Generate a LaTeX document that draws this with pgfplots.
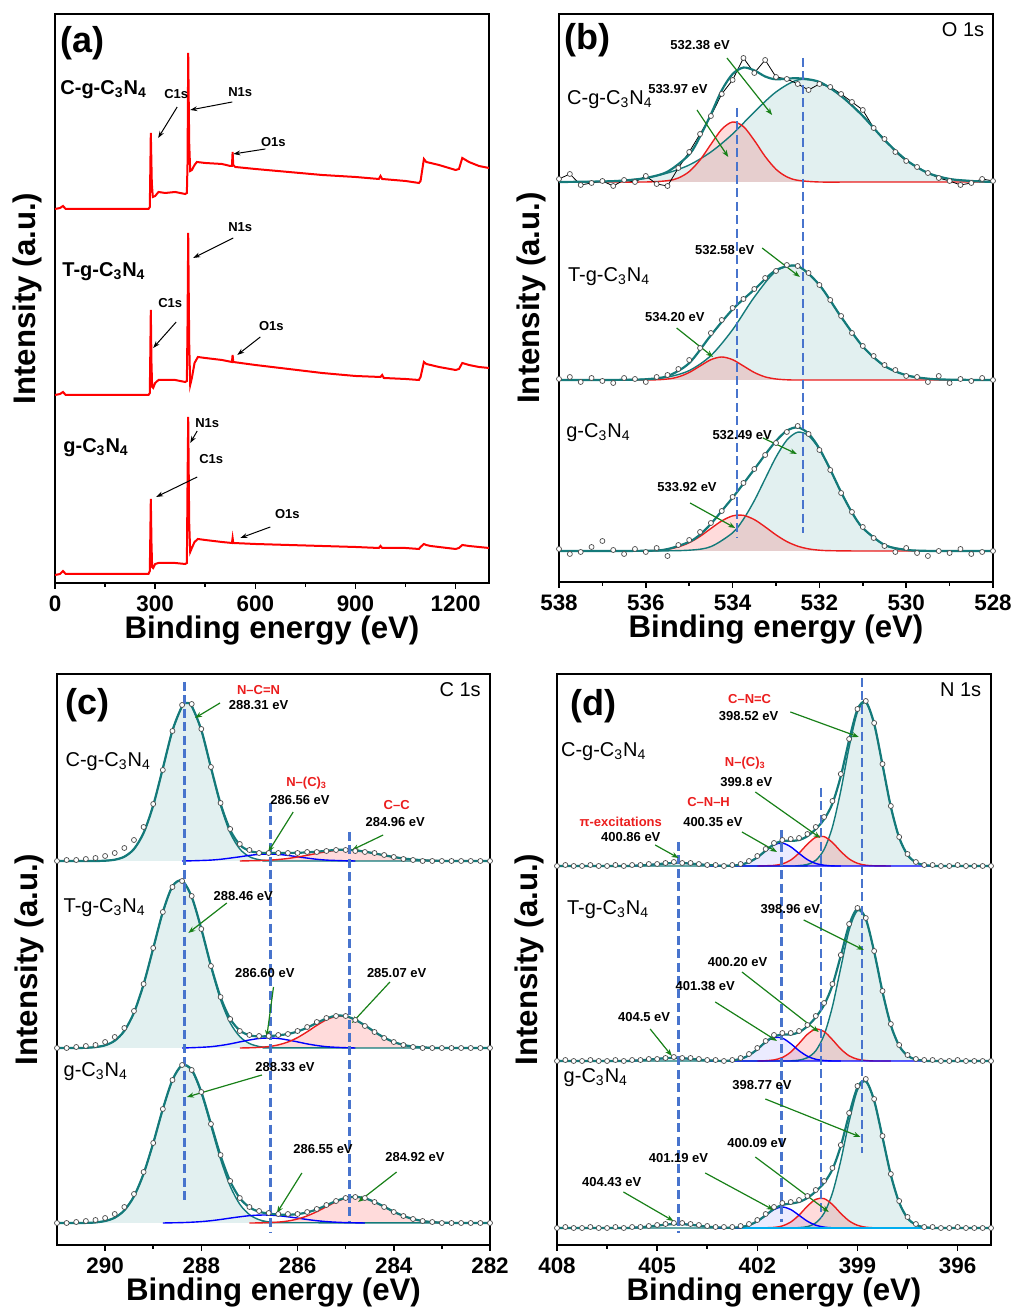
\documentclass[border=0pt]{standalone}
\usepackage{fontspec}
\setmainfont{Liberation Sans}
\usepackage{pgfplots}
\pgfplotsset{compat=1.18}
\usetikzlibrary{arrows.meta}

\definecolor{fitteal}{RGB}{20,122,122}
\definecolor{tealfill}{RGB}{226,240,240}
\definecolor{dashblue}{RGB}{72,116,205}
\definecolor{arrgreen}{RGB}{24,128,24}
\definecolor{ringgray}{RGB}{75,75,75}
\definecolor{compred}{RGB}{235,30,30}

\pgfplotsset{
  panel/.style={
    scale only axis, width=217pt, height=285pt,
    ymin=0, ytick=\empty,
    axis line style={line width=1pt},
    tick align=outside, xtick pos=bottom,
    major tick length=3pt, minor tick length=1.8pt,
    every tick/.append style={line width=0.8pt, black},
    minor x tick num=1,
    /pgf/number format/assume math mode=true,
    /pgf/number format/1000 sep={},
    xticklabel style={font=\fontsize{11.2}{13}\selectfont\bfseries},
    xlabel={Binding energy (eV)}, ylabel={Intensity (a.u.)},
    label style={font=\fontsize{15.6}{18}\selectfont\bfseries},
    xlabel style={at={(axis description cs:0.5,-0.083)}, anchor=center},
    ylabel style={at={(axis description cs:-0.064,0.5)}, anchor=center},
  },
  ring/.style={only marks, mark=*, mark size=1.25pt,
    mark options={draw=ringgray, fill=white, line width=0.35pt}},
  env/.style={fitteal, line width=1.1pt, smooth},
  comp/.style={fitteal, line width=0.7pt, smooth},
  tfill/.style={draw=none, fill=tealfill, smooth},
  rfill/.style={draw=none, fill=red, fill opacity=0.14, smooth},
  bfill/.style={draw=none, fill=blue, fill opacity=0.08, smooth},
  rline/.style={compred, line width=0.7pt, smooth},
  bline/.style={blue, line width=0.7pt, smooth},
  vdash/.style={dashblue, line width=1.3pt, dash pattern=on 4.5pt off 2.2pt},
}
\tikzset{
  ann/.style={font=\fontsize{6.5}{7}\selectfont\bfseries, inner sep=0pt},
  rann/.style={ann, text=compred},
  smp/.style={font=\fontsize{10}{12}\selectfont, anchor=west, inner sep=0pt},
  tag/.style={font=\fontsize{18}{20}\selectfont\bfseries, inner sep=0pt},
  core/.style={font=\fontsize{10}{12}\selectfont, inner sep=0pt},
  garr/.style={arrgreen, line width=0.6pt, -{Stealth[length=3.5pt,width=2.6pt]}},
  karr/.style={black, line width=0.5pt, -{Stealth[length=3.5pt,width=2.4pt]}},
}

\begin{document}
\begin{tikzpicture}
\useasboundingbox (0,0) rectangle (506.5pt,655pt);

% ---------------- (a) survey ----------------
\begin{axis}[panel, at={(27.5pt,363.5pt)}, anchor=south west, height=284.5pt,
  xmin=0, xmax=1300, ymax=569, xtick={0,300,600,900,1200}]
\addplot[red, line width=1pt] coordinates {
(0,374) (15,375) (24,377) (32,374) (100,374) (200,374) (280,374) (284,376) (287,450) (290,400)
(293,386) (300,387) (310,391) (330,390) (360,391) (390,389) (395,390) (397,420) (399,530) (402,440)
(405,412) (410,413) (418,418) (425,421) (450,420) (500,419) (525,417) (530,417) (532,431) (534,418)
(540,416) (600,414) (700,411) (800,408) (900,406) (970,404) (975,407) (980,404) (1050,402) (1090,400)
(1095,402) (1105,424) (1112,421) (1125,420) (1150,418) (1200,413) (1210,414) (1220,425) (1240,421)
(1270,417) (1300,415)};
\addplot[red, line width=1pt] coordinates {
(0,188) (15,189) (24,191) (32,188) (280,188) (284,190) (287,273) (289,220) (291,196) (294,195)
(300,200) (310,203) (360,203) (390,201) (395,202) (397,260) (399,350) (402,240) (405,198) (410,205)
(418,220) (428,226) (450,225) (500,223) (530,221) (532,228) (534,221) (600,218) (700,214) (800,210)
(900,207) (975,206) (980,208) (985,205) (1050,204) (1090,203) (1095,206) (1105,221) (1112,219)
(1125,218) (1150,216) (1200,213) (1210,214) (1220,220) (1240,218) (1270,216) (1300,215)};
\addplot[red, line width=1pt] coordinates {
(0,8) (15,9) (24,12) (32,9) (100,9) (280,9) (284,12) (287,84) (289,40) (291,16) (294,15) (300,19)
(310,20) (360,20) (390,19) (395,20) (397,100) (399,166) (402,60) (405,31) (410,35) (418,41) (428,44)
(450,43) (500,41) (530,40) (532,45) (534,40) (600,39) (700,38) (800,37) (900,36) (970,35) (975,37)
(980,35) (1050,35) (1090,34) (1095,36) (1105,39) (1112,38) (1125,37) (1150,36) (1200,34) (1210,35)
(1220,38) (1240,37) (1270,36) (1300,35)};
\node[tag] at (81,540) {(a)};
\node[smp, font=\fontsize{10}{12}\selectfont\bfseries] at (15,493) {C-g-C\textsubscript{3}N\textsubscript{4}};
\node[smp, font=\fontsize{10}{12}\selectfont\bfseries] at (21,311) {T-g-C\textsubscript{3}N\textsubscript{4}};
\node[smp, font=\fontsize{10}{12}\selectfont\bfseries] at (24,135) {g-C\textsubscript{3}N\textsubscript{4}};
\node[ann] at (363,489) {C1s}; \draw[karr] (366,476) -- (309,445);
\node[ann] at (555,491) {N1s}; \draw[karr] (531,481) -- (405,473);
\node[ann] at (654,441) {O1s}; \draw[karr] (630,434) -- (534,429);
\node[ann] at (555,356) {N1s}; \draw[karr] (534,345) -- (414,325);
\node[ann] at (345,280) {C1s}; \draw[karr] (363,261) -- (294,235);
\node[ann] at (648,257) {O1s}; \draw[karr] (615,246) -- (546,228);
\node[ann] at (456,160) {N1s}; \draw[karr] (426,152) -- (405,140);
\node[ann] at (468,124) {C1s}; \draw[karr] (426,106) -- (303,86);
\node[ann] at (696,69) {O1s}; \draw[karr] (645,56) -- (555,45);
\end{axis}

% ---------------- (b) O 1s ----------------
\begin{axis}[panel, at={(279.5pt,364pt)}, anchor=south west, height=284pt,
  x dir=reverse, xmin=528, xmax=538, ymax=568, xtick={528,530,...,538}]
% top
\addplot[tfill] coordinates {(538,400) (537,400.5) (536.5,401.5) (536,404) (535.5,409) (535,417) (534.5,430) (534,448) (533.5,470) (533,490) (532.5,502) (532,500) (531.5,486) (531,466) (530.5,442) (530,422) (529.5,409) (529,403) (528.5,401) (528,400)};
\addplot[rfill] coordinates {(538,400) (537,400) (536,400) (535.5,401.3) (535.25,404) (535,410.4) (534.75,422) (534.5,437.7) (534.25,452.7) (534,460) (533.75,455.4) (533.5,441.6) (533.25,425.5) (533,412.7) (532.75,405.1) (532.5,401.7) (532,400) (531,400) (528,400)};
\addplot[comp] coordinates {(538,400) (537,400.5) (536.5,401.5) (536,404) (535.5,409) (535,417) (534.5,430) (534,448) (533.5,470) (533,490) (532.5,502) (532,500) (531.5,486) (531,466) (530.5,442) (530,422) (529.5,409) (529,403) (528.5,401) (528,400)};
\addplot[rline] coordinates {(538,400) (537,400) (536,400) (535.5,401.3) (535.25,404) (535,410.4) (534.75,422) (534.5,437.7) (534.25,452.7) (534,460) (533.75,455.4) (533.5,441.6) (533.25,425.5) (533,412.7) (532.75,405.1) (532.5,401.7) (532,400) (531,400) (528,400)};
\addplot[black, line width=0.4pt] coordinates {(538,403) (537.75,408) (537.5,397) (537.25,399) (537,401) (536.75,396) (536.5,402) (536.25,400) (536,406) (535.75,398) (535.5,396) (535.25,414) (535,430) (534.75,448) (534.5,466) (534.25,488) (534,502) (533.75,524) (533.5,509) (533.25,522) (533,505) (532.75,503) (532.5,498) (532.25,492) (532,498) (531.75,495) (531.5,488) (531.25,480) (531,472) (530.75,454) (530.5,443) (530.25,430) (530,421) (529.75,415) (529.5,409) (529.25,404) (529,401) (528.75,397) (528.5,399) (528.25,403) (528,401)};
\addplot[env] coordinates {(538,400) (537,400.5) (536.5,401.5) (536,404) (535.5,410.3) (535,427.4) (534.75,445.5) (534.5,467.7) (534.25,491.7) (534,508) (533.75,514.4) (533.5,511.6) (533.25,505.5) (533,502.7) (532.5,503.7) (532,500) (531.5,486) (531,466) (530.5,442) (530,422) (529.5,409) (529,403) (528.5,401) (528,400)};
\addplot[ring] coordinates {(538,403) (537.75,408) (537.5,397) (537.25,399) (537,401) (536.75,396) (536.5,402) (536.25,400) (536,406) (535.75,398) (535.5,396) (535.25,414) (535,430) (534.75,448) (534.5,466) (534.25,488) (534,502) (533.75,524) (533.5,509) (533.25,522) (533,505) (532.75,503) (532.5,498) (532.25,492) (532,498) (531.75,495) (531.5,488) (531.25,480) (531,472) (530.75,454) (530.5,443) (530.25,430) (530,421) (529.75,415) (529.5,409) (529.25,404) (529,401) (528.75,397) (528.5,399) (528.25,403) (528,401)};
% middle
\addplot[tfill] coordinates {(538,202) (537,202) (536,202.7) (535.5,204.9) (535,211.4) (534.5,226.4) (534,252.3) (533.5,284.9) (533,310.8) (532.5,315.8) (532,297) (531.5,265.1) (531,235.5) (530.5,216.1) (530,206.8) (529.5,203.3) (529,202.3) (528,202)};
\addplot[rfill] coordinates {(538,202) (536,202) (535.5,203) (535.25,205.1) (535,209.5) (534.75,216) (534.5,222.3) (534.25,225) (534,222.3) (533.75,216) (533.5,209.5) (533.25,205.1) (533,203) (532.75,202.2) (532.5,202) (531,202) (528,202)};
\addplot[comp] coordinates {(538,202) (537,202) (536,202.7) (535.5,204.9) (535,211.4) (534.5,226.4) (534,252.3) (533.5,284.9) (533,310.8) (532.5,315.8) (532,297) (531.5,265.1) (531,235.5) (530.5,216.1) (530,206.8) (529.5,203.3) (529,202.3) (528,202)};
\addplot[rline] coordinates {(538,202) (536,202) (535.5,203) (535.25,205.1) (535,209.5) (534.75,216) (534.5,222.3) (534.25,225) (534,222.3) (533.75,216) (533.5,209.5) (533.25,205.1) (533,203) (532.75,202.2) (532.5,202) (531,202) (528,202)};
\addplot[env] coordinates {(538,202) (537,202) (536.5,202.2) (536,202.7) (535.5,205.9) (535,218.9) (534.5,246.7) (534,272.6) (533.5,292.4) (533,311.8) (532.5,315.8) (532,297) (531.5,265.1) (531,235.5) (530.5,216.1) (530,206.8) (529.5,203.3) (529,202.3) (528,202)};
\addplot[ring] coordinates {(538,203) (537.75,205) (537.5,200) (537.25,204) (537,201) (536.75,199) (536.5,204) (536.25,203) (536,200) (535.75,205) (535.5,207) (535.25,213) (535,222) (534.75,234) (534.5,249) (534.25,262) (534,274) (533.75,283) (533.5,293) (533.25,304) (533,311) (532.75,317) (532.5,316) (532.25,309) (532,297) (531.75,282) (531.5,266) (531.25,249) (531,236) (530.75,226) (530.5,217) (530.25,212) (530,206) (529.75,205) (529.5,200) (529.25,206) (529,199) (528.75,203) (528.5,201) (528.25,204) (528,202)};
% bottom
\addplot[tfill] coordinates {(538,31) (536,31) (535,31.8) (534.5,35.4) (534,49.2) (533.75,62.8) (533.5,81.3) (533.25,103.2) (533,124.9) (532.75,141.9) (532.5,149.8) (532.25,146.3) (532,132.6) (531.75,112.2) (531.5,89.8) (531.25,69.6) (531,54) (530.5,37.1) (530,32.1) (529.5,31.1) (529,31) (528,31)};
\addplot[rfill] coordinates {(538,31) (536,31.2) (535.5,32.8) (535.25,35.1) (535,39.3) (534.75,45.6) (534.5,53.5) (534.25,61.1) (534,66.1) (533.75,66.6) (533.5,62.4) (533.25,55.1) (533,47.1) (532.75,40.4) (532.5,35.8) (532.25,33.1) (532,31.8) (531.75,31.3) (531,31) (528,31)};
\addplot[comp] coordinates {(538,31) (536,31) (535,31.8) (534.5,35.4) (534,49.2) (533.75,62.8) (533.5,81.3) (533.25,103.2) (533,124.9) (532.75,141.9) (532.5,149.8) (532.25,146.3) (532,132.6) (531.75,112.2) (531.5,89.8) (531.25,69.6) (531,54) (530.5,37.1) (530,32.1) (529.5,31.1) (529,31) (528,31)};
\addplot[rline] coordinates {(538,31) (536,31.2) (535.5,32.8) (535.25,35.1) (535,39.3) (534.75,45.6) (534.5,53.5) (534.25,61.1) (534,66.1) (533.75,66.6) (533.5,62.4) (533.25,55.1) (533,47.1) (532.75,40.4) (532.5,35.8) (532.25,33.1) (532,31.8) (531.75,31.3) (531,31) (528,31)};
\addplot[env] coordinates {(538,31) (536,31.2) (535.5,32.9) (535,40.1) (534.75,47.4) (534.5,58.1) (534.25,71.1) (534,84.3) (533.75,98.4) (533.5,112.7) (533.25,127.3) (533,141) (532.75,151.3) (532.5,154.6) (532.25,148.4) (532,133.4) (531.75,112.5) (531.5,89.8) (531.25,69.6) (531,54) (530.5,37.1) (530,32.1) (529.5,31.1) (529,31) (528,31)};
\addplot[ring] coordinates {(538,33) (537.75,28) (537.5,30) (537.25,35) (537,41) (536.75,32) (536.5,28) (536.25,33) (536,30) (535.75,34) (535.5,26) (535.25,37) (535,42) (534.75,50) (534.5,59) (534.25,71) (534,85) (533.75,99) (533.5,113) (533.25,127) (533,139) (532.75,150) (532.5,156) (532.25,148) (532,132) (531.75,112) (531.5,89) (531.25,70) (531,55) (530.75,44) (530.5,36) (530.25,30) (530,34) (529.75,29) (529.5,26) (529.25,31) (529,29) (528.75,33) (528.5,28) (528.25,30) (528,31)};
% marker lines
\addplot[vdash] coordinates {(533.9,474) (533.9,44)};
\addplot[vdash] coordinates {(532.38,524) (532.38,49)};
\node[tag] at (537.35,542) {(b)};
\node[core] at (528.69,552) {O 1s};
\node[smp] at (537.82,482) {C-g-C\textsubscript{3}N\textsubscript{4}};
\node[smp] at (537.8,305) {T-g-C\textsubscript{3}N\textsubscript{4}};
\node[smp] at (537.84,149) {g-C\textsubscript{3}N\textsubscript{4}};
\node[ann] at (534.75,537) {532.38 eV}; \draw[garr] (534.13,524) -- (533.09,467);
\node[ann] at (535.26,493) {533.97 eV}; \draw[garr] (534.82,472) -- (534.1,425);
\node[ann] at (534.18,332) {532.58 eV}; \draw[garr] (533.32,334) -- (532.45,305);
\node[ann] at (535.33,265) {534.20 eV}; \draw[garr] (535.29,254) -- (534.45,225);
\node[ann] at (533.78,147) {532.49 eV}; \draw[garr] (533.3,144) -- (532.52,128);
\node[ann] at (535.05,95) {533.92 eV}; \draw[garr] (534.98,79) -- (533.94,54);
\end{axis}

% ---------------- (c) C 1s ----------------
\begin{axis}[panel, at={(28.5pt,32.5pt)}, anchor=south west, width=216.5pt, height=285.5pt,
  x dir=reverse, xmin=282, xmax=291, ymax=571, xtick={282,284,...,290}]
% top
\addplot[tfill] coordinates {(291,384) (290.4,384) (290.2,384) (290,384.3) (289.8,385.3) (289.6,388.3) (289.4,396) (289.2,412.1) (289,439.6) (288.8,476.7) (288.6,514.5) (288.4,538.7) (288.3,542) (288.2,538.7) (288,514.5) (287.8,476.7) (287.6,439.6) (287.4,412.1) (287.2,396) (287,388.3) (286.8,385.3) (286.6,384.3) (286.4,384) (282,384)};
\addplot[rfill] coordinates {(287.2,384) (287,384.2) (286.8,384.4) (286.6,384.8) (286.4,385.5) (286.2,386.5) (286,388) (285.8,389.7) (285.6,391.6) (285.4,393.3) (285.2,394.6) (285,395) (284.8,394.6) (284.6,393.3) (284.4,391.6) (284.2,389.7) (284,388) (283.8,386.5) (283.6,385.5) (283.4,384.8) (283.2,384.4) (283,384.2) (282.8,384)};
\addplot[comp] coordinates {(291,384) (290.4,384) (290.2,384) (290,384.3) (289.8,385.3) (289.6,388.3) (289.4,396) (289.2,412.1) (289,439.6) (288.8,476.7) (288.6,514.5) (288.4,538.7) (288.3,542) (288.2,538.7) (288,514.5) (287.8,476.7) (287.6,439.6) (287.4,412.1) (287.2,396) (287,388.3) (286.8,385.3) (286.6,384.3) (286.4,384) (282,384)};
\addplot[bline] coordinates {(288.4,384) (288.2,384.2) (288,384.5) (287.8,384.9) (287.6,385.7) (287.4,386.9) (287.2,388.2) (287,389.6) (286.8,390.6) (286.6,391) (286.4,390.6) (286.2,389.6) (286,388.2) (285.8,386.9) (285.6,385.7) (285.4,384.9) (285.2,384.5) (285,384.2) (284.8,384)};
\addplot[rline] coordinates {(287.2,384) (287,384.2) (286.8,384.4) (286.6,384.8) (286.4,385.5) (286.2,386.5) (286,388) (285.8,389.7) (285.6,391.6) (285.4,393.3) (285.2,394.6) (285,395) (284.8,394.6) (284.6,393.3) (284.4,391.6) (284.2,389.7) (284,388) (283.8,386.5) (283.6,385.5) (283.4,384.8) (283.2,384.4) (283,384.2) (282.8,384)};
\addplot[env] coordinates {(291,384) (290.4,384) (290.2,384) (290,384.3) (289.8,385.3) (289.6,388.3) (289.4,396) (289.2,412.1) (289,439.6) (288.8,476.7) (288.6,514.5) (288.4,538.7) (288.3,542) (288.2,538.9) (288,515) (287.8,477.6) (287.6,441.3) (287.4,415) (287.2,400.2) (287,394.1) (286.8,392.3) (286.6,392.1) (286.4,392.1) (286.2,392.1) (286,392.2) (285.8,392.6) (285.6,393.3) (285.4,394.2) (285.2,395.1) (285,395.2) (284.8,394.6) (284.6,393.3) (284.4,391.6) (284.2,389.7) (284,388) (283.8,386.5) (283.6,385.5) (283.4,384.8) (283.2,384.4) (283,384.2) (282.8,384) (282,384)};
\addplot[ring] coordinates {(291,384) (290.8,385) (290.6,385) (290.4,386) (290.2,387) (290,389) (289.8,392) (289.6,397) (289.4,405) (289.2,418) (289,441) (288.8,475) (288.6,514) (288.4,540) (288.2,541) (288,516) (287.8,478) (287.6,442) (287.4,416) (287.2,401) (287,395) (286.8,392) (286.6,392) (286.4,392) (286.2,392) (286,392) (285.8,393) (285.6,393) (285.4,394) (285.2,395) (285,395) (284.8,394) (284.6,393) (284.4,392) (284.2,390) (284,388) (283.8,386) (283.6,385) (283.4,384) (283.2,384) (283,384) (282.8,384) (282.6,384) (282.4,384) (282.2,384) (282,384)};
% middle
\addplot[tfill] coordinates {(291,197) (290.6,197) (290.4,197.2) (290.2,197.9) (290,199.7) (289.8,204.3) (289.6,214.2) (289.4,232.4) (289.2,260.7) (289,296.7) (288.8,333) (288.6,358.6) (288.4,364.3) (288.2,347.8) (288,315.5) (287.8,278.1) (287.6,245.3) (287.4,222.1) (287.2,208.4) (287,201.5) (286.8,198.5) (286.6,197.5) (286.4,197.1) (282,197)};
\addplot[rfill] coordinates {(287.2,197) (287,197.2) (286.8,197.6) (286.6,198.4) (286.4,200.1) (286.2,203) (286,207.4) (285.8,213.2) (285.6,219.6) (285.4,225.2) (285.2,228.6) (285,228.6) (284.8,225.2) (284.6,219.6) (284.4,213.2) (284.2,207.4) (284,203) (283.8,200.1) (283.6,198.4) (283.4,197.6) (283.2,197.2) (283,197)};
\addplot[comp] coordinates {(291,197) (290.6,197) (290.4,197.2) (290.2,197.9) (290,199.7) (289.8,204.3) (289.6,214.2) (289.4,232.4) (289.2,260.7) (289,296.7) (288.8,333) (288.6,358.6) (288.4,364.3) (288.2,347.8) (288,315.5) (287.8,278.1) (287.6,245.3) (287.4,222.1) (287.2,208.4) (287,201.5) (286.8,198.5) (286.6,197.5) (286.4,197.1) (282,197)};
\addplot[bline] coordinates {(288.4,197) (288.2,197.3) (288,197.7) (287.8,198.3) (287.6,199.5) (287.4,201.1) (287.2,203.1) (287,205) (286.8,206.5) (286.6,207) (286.4,206.5) (286.2,205) (286,203.1) (285.8,201.1) (285.6,199.5) (285.4,198.3) (285.2,197.7) (285,197.3) (284.8,197)};
\addplot[rline] coordinates {(287.2,197) (287,197.2) (286.8,197.6) (286.6,198.4) (286.4,200.1) (286.2,203) (286,207.4) (285.8,213.2) (285.6,219.6) (285.4,225.2) (285.2,228.6) (285,228.6) (284.8,225.2) (284.6,219.6) (284.4,213.2) (284.2,207.4) (284,203) (283.8,200.1) (283.6,198.4) (283.4,197.6) (283.2,197.2) (283,197)};
\addplot[env] coordinates {(291,197) (290.6,197) (290.4,197.2) (290.2,197.9) (290,199.7) (289.8,204.3) (289.6,214.2) (289.4,232.4) (289.2,260.7) (289,296.7) (288.8,333) (288.6,358.6) (288.4,364.3) (288.2,348.1) (288,316.2) (287.8,279.4) (287.6,247.8) (287.4,226.2) (287.2,214.5) (287,209.7) (286.8,208.6) (286.6,208.9) (286.4,209.7) (286.2,211) (286,213.5) (285.8,217.3) (285.6,222.1) (285.4,226.5) (285.2,229.3) (285,228.9) (284.8,225.2) (284.6,219.6) (284.4,213.2) (284.2,207.4) (284,203) (283.8,200.1) (283.6,198.4) (283.4,197.6) (283.2,197.2) (283,197) (282,197)};
\addplot[ring] coordinates {(291,197) (290.8,197) (290.6,198) (290.4,199) (290.2,200) (290,203) (289.8,208) (289.6,217) (289.4,234) (289.2,261) (289,297) (288.8,333) (288.6,358) (288.4,364) (288.2,349) (288,316) (287.8,279) (287.6,248) (287.4,226) (287.2,214) (287,210) (286.8,209) (286.6,209) (286.4,210) (286.2,211) (286,214) (285.8,218) (285.6,223) (285.4,227) (285.2,229) (285,229) (284.8,225) (284.6,219) (284.4,213) (284.2,207) (284,203) (283.8,200) (283.6,198) (283.4,197) (283.2,197) (283,197) (282.8,197) (282.6,197) (282.4,197) (282.2,197) (282,197)};
% bottom
\addplot[tfill] coordinates {(291,22) (290.4,22.1) (290.2,22.6) (290,24) (289.8,27.3) (289.6,34.7) (289.4,48.7) (289.2,71.3) (289,101.9) (288.8,136) (288.6,164.8) (288.4,179.4) (288.2,174.4) (288,151.7) (287.8,119) (287.6,85.8) (287.4,58.8) (287.2,40.7) (287,30.4) (286.8,25.3) (286.6,23.1) (286.4,22.3) (282,22)};
\addplot[rfill] coordinates {(287,22) (286.8,22.1) (286.6,22.4) (286.4,22.9) (286.2,24) (286,26) (285.8,29.1) (285.6,33.3) (285.4,38.3) (285.2,43.1) (285,46.7) (284.8,48) (284.6,46.7) (284.4,43.1) (284.2,38.3) (284,33.3) (283.8,29.1) (283.6,26) (283.4,24) (283.2,22.9) (283,22.4) (282.8,22.1) (282.6,22)};
\addplot[comp] coordinates {(291,22) (290.4,22.1) (290.2,22.6) (290,24) (289.8,27.3) (289.6,34.7) (289.4,48.7) (289.2,71.3) (289,101.9) (288.8,136) (288.6,164.8) (288.4,179.4) (288.2,174.4) (288,151.7) (287.8,119) (287.6,85.8) (287.4,58.8) (287.2,40.7) (287,30.4) (286.8,25.3) (286.6,23.1) (286.4,22.3) (282,22)};
\addplot[bline] coordinates {(288.8,22) (288.6,22.2) (288.4,22.4) (288.2,22.8) (288,23.4) (287.8,24.3) (287.6,25.5) (287.4,26.9) (287.2,28.2) (287,29.3) (286.8,29.9) (286.6,29.9) (286.4,29.3) (286.2,28.2) (286,26.9) (285.8,25.5) (285.6,24.3) (285.4,23.4) (285.2,22.8) (285,22.4) (284.8,22.2) (284.6,22)};
\addplot[rline] coordinates {(287,22) (286.8,22.1) (286.6,22.4) (286.4,22.9) (286.2,24) (286,26) (285.8,29.1) (285.6,33.3) (285.4,38.3) (285.2,43.1) (285,46.7) (284.8,48) (284.6,46.7) (284.4,43.1) (284.2,38.3) (284,33.3) (283.8,29.1) (283.6,26) (283.4,24) (283.2,22.9) (283,22.4) (282.8,22.1) (282.6,22)};
\addplot[env] coordinates {(291,22) (290.4,22.1) (290.2,22.6) (290,24) (289.8,27.3) (289.6,34.7) (289.4,48.7) (289.2,71.3) (289,101.9) (288.8,136) (288.6,165) (288.4,179.8) (288.2,175.2) (288,153.1) (287.8,121.3) (287.6,89.3) (287.4,63.7) (287.2,46.9) (287,37.7) (286.8,33.3) (286.6,31.4) (286.4,30.5) (286.2,30.2) (286,30.9) (285.8,32.6) (285.6,35.6) (285.4,39.7) (285.2,43.9) (285,47.1) (284.8,48.2) (284.6,46.7) (284.4,43.1) (284.2,38.3) (284,33.3) (283.8,29.1) (283.6,26) (283.4,24) (283.2,22.9) (283,22.4) (282.8,22.1) (282.6,22) (282,22)};
\addplot[ring] coordinates {(291,22) (290.8,22) (290.6,23) (290.4,24) (290.2,25) (290,27) (289.8,31) (289.6,38) (289.4,51) (289.2,73) (289,102) (288.8,136) (288.6,165) (288.4,180) (288.2,175) (288,153) (287.8,121) (287.6,90) (287.4,64) (287.2,47) (287,38) (286.8,34) (286.6,32) (286.4,31) (286.2,31) (286,31) (285.8,33) (285.6,36) (285.4,40) (285.2,44) (285,47) (284.8,48) (284.6,47) (284.4,43) (284.2,38) (284,33) (283.8,29) (283.6,26) (283.4,24) (283.2,23) (283,22) (282.8,22) (282.6,22) (282.4,22) (282.2,22) (282,22)};
\addplot[vdash] coordinates {(288.35,563) (288.35,42)};
\addplot[vdash] coordinates {(286.56,442) (286.56,13)};
\addplot[vdash] coordinates {(284.92,413) (284.92,23)};
\node[tag] at (290.36,540) {(c)};
\node[core] at (282.62,555) {C 1s};
\node[smp] at (290.83,483) {C-g-C\textsubscript{3}N\textsubscript{4}};
\node[smp] at (290.87,337) {T-g-C\textsubscript{3}N\textsubscript{4}};
\node[smp] at (290.87,173) {g-C\textsubscript{3}N\textsubscript{4}};
\node[rann] at (286.81,555) {N–C=N};
\node[ann] at (286.81,540) {288.31 eV}; \draw[garr] (287.61,542) -- (288.13,527);
\node[rann] at (285.81,462) {N–(C)\textsubscript{3}};
\node[ann] at (285.95,445) {286.56 eV}; \draw[garr] (286.09,433) -- (286.61,393);
\node[rann] at (283.94,440) {C–C};
\node[ann] at (283.97,423) {284.96 eV}; \draw[garr] (284.22,410) -- (284.87,395);
\node[ann] at (287.13,349) {288.46 eV}; \draw[garr] (287.47,342) -- (288.27,312);
\node[ann] at (286.68,272) {286.60 eV}; \draw[garr] (286.5,258) -- (286.64,208);
\node[ann] at (283.94,272) {285.07 eV}; \draw[garr] (284.08,263) -- (284.87,222);
\node[ann] at (286.26,178) {288.33 eV}; \draw[garr] (286.74,170) -- (288.3,148);
\node[ann] at (285.47,96) {286.55 eV}; \draw[garr] (285.91,72) -- (286.43,32);
\node[ann] at (283.56,88) {284.92 eV}; \draw[garr] (283.94,73) -- (284.74,43);
\end{axis}

% ---------------- (d) N 1s ----------------
\begin{axis}[panel, at={(278.5pt,32.5pt)}, anchor=south west, height=285.5pt,
  x dir=reverse, xmin=395, xmax=408, ymax=571, xtick={396,399,402,405,408}]
% top
\addplot[tfill] coordinates {(408,379) (401,379) (400.75,379.4) (400.5,380.6) (400.25,384.7) (400,395.5) (399.75,417.9) (399.5,454.1) (399.25,497.7) (399,532.9) (398.75,542.3) (398.5,521) (398.25,480.2) (398,438.1) (397.75,407.3) (397.5,390.1) (397.25,382.6) (397,379.9) (396.75,379.2) (396.5,379) (395,379)};
\addplot[rfill] coordinates {(402,379) (401.5,379.6) (401.25,381.1) (401,384.9) (400.75,391.9) (400.5,400.8) (400.25,407.7) (400,408.4) (399.75,402.5) (399.5,393.6) (399.25,386.1) (399,381.7) (398.75,379.8) (398.5,379.2) (398,379)};
\addplot[bfill] coordinates {(403.5,379) (403,379) (402.75,379.3) (402.5,380.3) (402.25,382.8) (402,387.6) (401.75,394.3) (401.5,400.2) (401.25,401.9) (401,398.2) (400.75,391.6) (400.5,385.4) (400.25,381.5) (400,379.8) (399.75,379.1) (399.5,379)};
\addplot[comp] coordinates {(408,379) (401,379) (400.75,379.4) (400.5,380.6) (400.25,384.7) (400,395.5) (399.75,417.9) (399.5,454.1) (399.25,497.7) (399,532.9) (398.75,542.3) (398.5,521) (398.25,480.2) (398,438.1) (397.75,407.3) (397.5,390.1) (397.25,382.6) (397,379.9) (396.75,379.2) (396.5,379) (395,379)};
\addplot[rline] coordinates {(402,379) (401.5,379.6) (401.25,381.1) (401,384.9) (400.75,391.9) (400.5,400.8) (400.25,407.7) (400,408.4) (399.75,402.5) (399.5,393.6) (399.25,386.1) (399,381.7) (398.75,379.8) (398.5,379.2) (398,379)};
\addplot[bline] coordinates {(403.5,379) (403,379) (402.75,379.3) (402.5,380.3) (402.25,382.8) (402,387.6) (401.75,394.3) (401.5,400.2) (401.25,401.9) (401,398.2) (400.75,391.6) (400.5,385.4) (400.25,381.5) (400,379.8) (399.75,379.1) (399.5,379)};
\addplot[bline] coordinates {(408,379) (406,379) (405.75,379.2) (405.5,379.6) (405.25,380.1) (405,380.8) (404.75,381.5) (404.5,382) (404.25,381.9) (404,381.4) (403.75,380.7) (403.5,380) (403.25,379.5) (403,379.2) (402.75,379) (395,379)};
\addplot[env] coordinates {(408,379) (406,379) (405.75,379.2) (405.5,379.6) (405.25,380.1) (405,380.8) (404.75,381.5) (404.5,382) (404.25,381.9) (404,381.4) (403.75,380.7) (403.5,380) (403.25,379.5) (403,379.2) (402.75,379.3) (402.5,380.3) (402.25,382.8) (402,387.6) (401.75,394.3) (401.5,400.8) (401.25,404) (401,404.1) (400.75,404.9) (400.5,408.8) (400.25,415.9) (400,425.7) (399.75,441.4) (399.5,468.7) (399.25,504.8) (399,535.6) (398.75,543.1) (398.5,521.2) (398.25,480.2) (398,438.1) (397.75,407.3) (397.5,390.1) (397.25,382.6) (397,379.9) (396.75,379.2) (396.5,379) (395,379)};
\addplot[ring] coordinates {(408,379) (407.75,380) (407.5,379) (407.25,379) (407,380) (406.75,379) (406.5,379) (406.25,380) (406,379) (405.75,380) (405.5,380) (405.25,381) (405,381) (404.75,382) (404.5,383) (404.25,382) (404,382) (403.75,381) (403.5,380) (403.25,380) (403,379) (402.75,380) (402.5,381) (402.25,384) (402,389) (401.75,396) (401.5,402) (401.25,405) (401,406) (400.75,407) (400.5,411) (400.25,418) (400,428) (399.75,444) (399.5,471) (399.25,506) (399,536) (398.75,544) (398.5,522) (398.25,481) (398,439) (397.75,408) (397.5,391) (397.25,383) (397,380) (396.75,380) (396.5,379) (396.25,379) (396,380) (395.75,379) (395.5,379) (395.25,379) (395,379)};
% middle
\addplot[tfill] coordinates {(408,184) (401.25,184) (401,184.2) (400.75,184.9) (400.5,187.3) (400.25,194.2) (400,210) (399.75,238.4) (399.5,277.2) (399.25,314.8) (399,334.4) (398.75,325.6) (398.5,293.3) (398.25,253.2) (398,219.8) (397.75,199.2) (397.5,189.3) (397.25,185.5) (397,184.4) (396.75,184) (395,184)};
\addplot[rfill] coordinates {(402,184) (401.75,184.3) (401.5,185.1) (401.25,187.5) (401,192.9) (400.75,201.5) (400.5,210.7) (400.25,215.8) (400,213.5) (399.75,205.3) (399.5,196) (399.25,189.2) (399,185.8) (398.75,184.5) (398.5,184) (398,184)};
\addplot[bfill] coordinates {(403.25,184) (403,184) (402.75,184.6) (402.5,186.1) (402.25,189.7) (402,195.7) (401.75,202.8) (401.5,207.5) (401.25,206.9) (401,201.4) (400.75,194.3) (400.5,188.8) (400.25,185.7) (400,184.5) (399.75,184) (399.5,184)};
\addplot[comp] coordinates {(408,184) (401.25,184) (401,184.2) (400.75,184.9) (400.5,187.3) (400.25,194.2) (400,210) (399.75,238.4) (399.5,277.2) (399.25,314.8) (399,334.4) (398.75,325.6) (398.5,293.3) (398.25,253.2) (398,219.8) (397.75,199.2) (397.5,189.3) (397.25,185.5) (397,184.4) (396.75,184) (395,184)};
\addplot[rline] coordinates {(402,184) (401.75,184.3) (401.5,185.1) (401.25,187.5) (401,192.9) (400.75,201.5) (400.5,210.7) (400.25,215.8) (400,213.5) (399.75,205.3) (399.5,196) (399.25,189.2) (399,185.8) (398.75,184.5) (398.5,184) (398,184)};
\addplot[bline] coordinates {(403.25,184) (403,184) (402.75,184.6) (402.5,186.1) (402.25,189.7) (402,195.7) (401.75,202.8) (401.5,207.5) (401.25,206.9) (401,201.4) (400.75,194.3) (400.5,188.8) (400.25,185.7) (400,184.5) (399.75,184) (399.5,184)};
\addplot[bline] coordinates {(408,184) (406,184) (405.75,184.3) (405.5,184.7) (405.25,185.4) (405,186.1) (404.75,186.8) (404.5,187) (404.25,186.8) (404,186.1) (403.75,185.4) (403.5,184.7) (403.25,184.3) (403,184) (395,184)};
\addplot[env] coordinates {(408,184) (406,184) (405.75,184.3) (405.5,184.7) (405.25,185.4) (405,186.1) (404.75,186.8) (404.5,187) (404.25,186.8) (404,186.1) (403.75,185.4) (403.5,184.7) (403.25,184.3) (403,184) (402.75,184.6) (402.5,186.1) (402.25,189.7) (402,195.7) (401.75,203.1) (401.5,208.6) (401.25,210.4) (401,210.5) (400.75,212.7) (400.5,218.8) (400.25,227.7) (400,240) (399.75,259.7) (399.5,289.2) (399.25,320) (399,336.2) (398.75,326.1) (398.5,293.3) (398.25,253.2) (398,219.8) (397.75,199.2) (397.5,189.3) (397.25,185.5) (397,184.4) (396.75,184) (395,184)};
\addplot[ring] coordinates {(408,184) (407.75,185) (407.5,184) (407.25,184) (407,185) (406.75,184) (406.5,184) (406.25,185) (406,184) (405.75,185) (405.5,185) (405.25,186) (405,186) (404.75,187) (404.5,188) (404.25,187) (404,187) (403.75,186) (403.5,185) (403.25,185) (403,184) (402.75,185) (402.5,187) (402.25,191) (402,197) (401.75,204) (401.5,210) (401.25,212) (401,212) (400.75,214) (400.5,220) (400.25,229) (400,242) (399.75,261) (399.5,290) (399.25,321) (399,337) (398.75,327) (398.5,294) (398.25,254) (398,221) (397.75,200) (397.5,190) (397.25,186) (397,185) (396.75,185) (396.5,184) (396.25,184) (396,185) (395.75,184) (395.5,184) (395.25,184) (395,184)};
% bottom
\addplot[tfill] coordinates {(408,17) (401,17) (400.75,17.4) (400.5,18.4) (400.25,22.1) (400,31.8) (399.75,51.9) (399.5,84.3) (399.25,123.4) (399,154.9) (398.75,163.3) (398.5,144.2) (398.25,107.7) (398,70) (397.75,42.4) (397.5,26.9) (397.25,20.2) (397,17.8) (396.75,17.2) (396.5,17) (395,17)};
\addplot[rfill] coordinates {(402,17) (401.5,17.6) (401.25,19.1) (401,22.9) (400.75,29.9) (400.5,38.8) (400.25,45.7) (400,46.4) (399.75,40.5) (399.5,31.6) (399.25,24.1) (399,19.7) (398.75,17.8) (398.5,17.2) (398,17)};
\addplot[bfill] coordinates {(403.25,17) (403,17) (402.75,17.2) (402.5,17.9) (402.25,19.8) (402,23.8) (401.75,29.7) (401.5,35.5) (401.25,38) (401,35.5) (400.75,29.7) (400.5,23.8) (400.25,19.8) (400,17.9) (399.75,17.2) (399.5,17)};
\addplot[comp] coordinates {(408,17) (401,17) (400.75,17.4) (400.5,18.4) (400.25,22.1) (400,31.8) (399.75,51.9) (399.5,84.3) (399.25,123.4) (399,154.9) (398.75,163.3) (398.5,144.2) (398.25,107.7) (398,70) (397.75,42.4) (397.5,26.9) (397.25,20.2) (397,17.8) (396.75,17.2) (396.5,17) (395,17)};
\addplot[rline] coordinates {(402,17) (401.5,17.6) (401.25,19.1) (401,22.9) (400.75,29.9) (400.5,38.8) (400.25,45.7) (400,46.4) (399.75,40.5) (399.5,31.6) (399.25,24.1) (399,19.7) (398.75,17.8) (398.5,17.2) (398,17)};
\addplot[bline] coordinates {(403.25,17) (403,17) (402.75,17.2) (402.5,17.9) (402.25,19.8) (402,23.8) (401.75,29.7) (401.5,35.5) (401.25,38) (401,35.5) (400.75,29.7) (400.5,23.8) (400.25,19.8) (400,17.9) (399.75,17.2) (399.5,17)};
\addplot[bline] coordinates {(408,17) (406,17) (405.75,17.3) (405.5,17.8) (405.25,18.5) (405,19.4) (404.75,20.3) (404.5,21) (404.25,20.9) (404,20.2) (403.75,19.3) (403.5,18.3) (403.25,17.7) (403,17.3) (402.75,17) (395,17)};
\addplot[cyan, line width=1pt] coordinates {(402.5,17) (395,17)};
\addplot[env] coordinates {(408,17) (406,17) (405.75,17.3) (405.5,17.8) (405.25,18.5) (405,19.4) (404.75,20.3) (404.5,21) (404.25,20.9) (404,20.2) (403.75,19.3) (403.5,18.3) (403.25,17.7) (403,17.3) (402.75,17.2) (402.5,17.9) (402.25,19.8) (402,23.8) (401.75,29.7) (401.5,36.1) (401.25,40.1) (401,41.4) (400.75,43) (400.5,47) (400.25,53.6) (400,62.1) (399.75,75.6) (399.5,98.9) (399.25,130.5) (399,157.6) (398.75,164.1) (398.5,144.4) (398.25,107.7) (398,70) (397.75,42.4) (397.5,26.9) (397.25,20.2) (397,17.8) (396.75,17.2) (396.5,17) (395,17)};
\addplot[ring] coordinates {(408,17) (407.75,18) (407.5,17) (407.25,17) (407,18) (406.75,17) (406.5,17) (406.25,18) (406,17) (405.75,18) (405.5,18) (405.25,19) (405,20) (404.75,21) (404.5,22) (404.25,22) (404,21) (403.75,20) (403.5,19) (403.25,18) (403,18) (402.75,18) (402.5,19) (402.25,21) (402,25) (401.75,31) (401.5,38) (401.25,42) (401,43) (400.75,45) (400.5,49) (400.25,55) (400,64) (399.75,77) (399.5,100) (399.25,132) (399,159) (398.75,166) (398.5,146) (398.25,109) (398,71) (397.75,44) (397.5,28) (397.25,21) (397,18) (396.75,18) (396.5,17) (396.25,17) (396,18) (395.75,17) (395.5,17) (395.25,17) (395,17)};
\addplot[vdash] coordinates {(404.36,403) (404.36,12)};
\addplot[vdash] coordinates {(401.28,415) (401.28,23)};
\addplot[vdash] coordinates {(400.09,457) (400.09,27)};
\addplot[vdash] coordinates {(398.86,567) (398.86,92)};
\node[tag] at (406.92,539) {(d)};
\node[core] at (395.91,555) {N 1s};
\node[smp] at (407.89,493) {C-g-C\textsubscript{3}N\textsubscript{4}};
\node[smp] at (407.71,335) {T-g-C\textsubscript{3}N\textsubscript{4}};
\node[smp] at (407.81,167) {g-C\textsubscript{3}N\textsubscript{4}};
\node[rann] at (402.23,546) {C–N=C};
\node[ann] at (402.26,529) {398.52 eV}; \draw[garr] (401.01,533) -- (398.96,508);
\node[rann] at (402.36,482) {N–(C)\textsubscript{3}};
\node[ann] at (402.33,463) {399.8 eV}; \draw[garr] (402.06,453) -- (400.11,407);
\node[rann] at (403.46,443) {C–N–H};
\node[ann] at (403.33,423) {400.35 eV}; \draw[garr] (402.46,413) -- (401.41,393);
\node[rann] at (406.09,423) {π-excitations};
\node[ann] at (405.79,408) {400.86 eV}; \draw[garr] (405.06,400) -- (404.36,387);
\node[ann] at (401.01,336) {398.96 eV}; \draw[garr] (400.61,325) -- (398.81,295);
\node[ann] at (402.59,283) {400.20 eV}; \draw[garr] (402.46,273) -- (400.16,213);
\node[ann] at (403.56,259) {401.38 eV}; \draw[garr] (403.26,243) -- (401.41,204);
\node[ann] at (405.39,228) {404.5 eV}; \draw[garr] (405.21,216) -- (404.56,189);
\node[ann] at (401.86,160) {398.77 eV}; \draw[garr] (401.76,146) -- (398.91,108);
\node[ann] at (402.01,102) {400.09 eV}; \draw[garr] (402.06,88) -- (399.86,33);
\node[ann] at (404.36,87) {401.19 eV}; \draw[garr] (403.56,72) -- (401.51,35);
\node[ann] at (406.36,63) {404.43 eV}; \draw[garr] (406.01,53) -- (404.51,24);
\end{axis}
\end{tikzpicture}
\end{document}
